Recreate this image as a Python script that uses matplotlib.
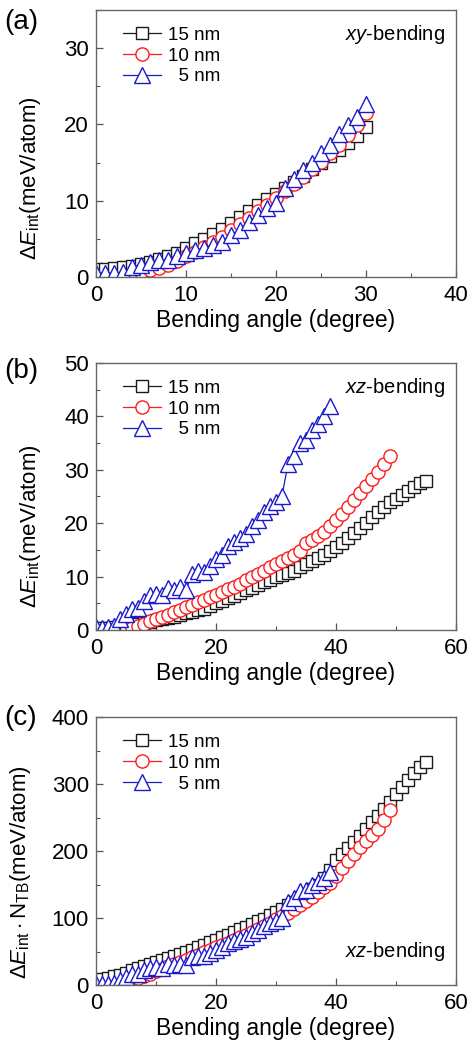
import matplotlib
matplotlib.use("Agg")
import matplotlib.pyplot as plt
from matplotlib.ticker import MultipleLocator

plt.rcParams['font.family'] = ['Liberation Sans', 'DejaVu Sans']
plt.rcParams['mathtext.fontset'] = 'custom'
plt.rcParams['mathtext.rm'] = 'Liberation Sans'
plt.rcParams['mathtext.it'] = 'Liberation Sans:italic'
plt.rcParams['mathtext.bf'] = 'Liberation Sans:bold'

labels = ['15 nm', '10 nm', '  5 nm']

# (a) xy-bending, interaction energy per atom
a_x15 = list(range(0, 31))
a_y15 = [1.0, 1.1, 1.2, 1.3, 1.5, 1.7, 2.0, 2.3, 2.7, 3.2, 3.8, 4.4, 5.0, 5.6, 6.3, 7.1,
         7.9, 8.7, 9.5, 10.2, 10.9, 11.7, 12.5, 13.3, 14.1, 14.9, 15.8, 16.7, 17.6, 18.5, 19.6]
a_x10 = list(range(5, 31))
a_y10 = [0.6, 0.9, 1.2, 1.6, 2.1, 2.7, 3.3, 3.9, 4.6, 5.3, 6.1, 6.9, 7.7, 8.6, 9.5,
         10.4, 11.3, 12.2, 13.1, 14.1, 15.1, 16.2, 17.3, 18.6, 19.9, 21.5]
a_x5 = list(range(0, 31))
a_y5 = [0.5, 0.5, 0.5, 0.6, 1.3, 1.6, 2.0, 2.2, 2.2, 2.7, 3.1, 3.5, 3.8, 4.2, 4.6, 5.5,
        6.1, 7.2, 8.1, 9.0, 9.7, 11.6, 12.9, 14.0, 14.9, 16.2, 17.3, 18.8, 19.9, 21.0, 22.7]

# (b) xz-bending, interaction energy per atom
b_x15 = list(range(0, 56))
b_y15 = [0.3, 0.3, 0.4, 0.5, 0.6, 0.8, 0.9, 1.1, 1.3, 1.5, 1.8, 2.0, 2.2, 2.5, 2.8, 3.1,
         3.4, 3.7, 4.0, 4.4, 5.0, 5.4, 5.9, 6.4, 6.9, 7.4, 7.9, 8.4, 8.9, 9.4, 9.9, 10.3,
         10.7, 11.1, 11.7, 12.3, 12.9, 13.5, 14.1, 14.7, 15.5, 16.3, 17.2, 18.1, 19.1, 20.1,
         21.1, 22.1, 23.1, 23.9, 24.6, 25.3, 26.0, 26.8, 27.5, 27.9]
b_x10 = list(range(6, 50))
b_y10 = [0.3, 0.7, 1.2, 1.6, 2.0, 2.4, 2.8, 3.3, 3.8, 4.3, 4.7, 5.2, 5.7, 6.1, 6.6, 7.1,
         7.6, 8.1, 8.7, 9.3, 9.9, 10.5, 11.1, 11.7, 12.3, 12.9, 13.5, 14.1, 14.8, 16.2,
         16.9, 17.6, 18.4, 19.5, 20.6, 21.8, 23.1, 24.4, 25.7, 27.0, 28.3, 29.6, 31.0, 32.6]
b_x5 = list(range(0, 40))
b_y5 = [0.5, 0.4, 0.5, 0.8, 2.0, 3.0, 4.0, 4.2, 5.5, 6.5, 6.8, 6.5, 7.8, 7.5, 8.0, 7.5,
        10.5, 11.0, 10.8, 12.0, 13.2, 14.0, 15.8, 16.5, 17.2, 18.0, 19.5, 20.5, 22.0, 23.3,
        24.0, 25.0, 31.0, 32.5, 35.0, 35.5, 37.5, 38.5, 40.0, 42.0]

# (c) xz-bending, energy scaled by the number of twin boundaries
c_x15 = list(range(0, 56))
c_y15 = [7, 9, 11, 13, 15, 18, 22, 26, 29, 32, 35, 38, 41, 44, 47, 50, 53, 57, 60, 64,
         67, 71, 75, 79, 83, 87, 91, 95, 99, 104, 109, 114, 119, 124, 130, 136, 143, 150,
         160, 172, 186, 196, 205, 214, 223, 233, 243, 253, 263, 273, 285, 296, 306, 316,
         326, 333]
c_x10 = list(range(5, 50))
c_y10 = [2, 6, 10, 14, 17, 21, 24, 28, 31, 35, 38, 42, 45, 49, 52, 56, 59, 63, 67, 71,
         75, 79, 83, 88, 93, 98, 103, 108, 114, 119, 125, 132, 139, 146, 153, 163, 174,
         185, 196, 206, 215, 224, 233, 246, 261]
c_x5 = list(range(0, 40))
c_y5 = [2, 1.6, 2, 3.2, 8, 12, 16, 17, 22, 26, 27, 26, 31, 30, 32, 30, 42, 44, 43, 48,
        53, 56, 63, 66, 69, 72, 78, 82, 88, 93, 96, 100, 124, 130, 140, 142, 150, 154,
        160, 168]

colors = ['#1a1a1a', '#ff1a1a', '#1a1acc']
markers = ['s', 'o', '^']
msizes = [9, 9.5, 11]

ylab1 = r'$\Delta\mathit{E}_{\rm int}$(meV/atom)'
ylab2 = r'$\Delta\mathit{E}_{\rm int}\cdot{\rm N}_{\rm TB}$(meV/atom)'

panels = [
    dict(rect=[0.205, 0.7347, 0.769, 0.2557], tag='(a)', tag_y=0.979,
         data=[(a_x15, a_y15), (a_x10, a_y10), (a_x5, a_y5)],
         xlim=40, xmaj=10, ylim=35, ymaj=10, ylab=ylab1, ylab_pos=(-0.147, 0.37),
         note=r'$\mathit{xy}$-bending', note_y=0.91),
    dict(rect=[0.205, 0.3966, 0.769, 0.2557], tag='(b)', tag_y=0.645,
         data=[(b_x15, b_y15), (b_x10, b_y10), (b_x5, b_y5)],
         xlim=60, xmaj=20, ylim=50, ymaj=10, ylab=ylab1, ylab_pos=(-0.147, 0.39),
         note=r'$\mathit{xz}$-bending', note_y=0.91),
    dict(rect=[0.205, 0.0565, 0.769, 0.2567], tag='(c)', tag_y=0.312,
         data=[(c_x15, c_y15), (c_x10, c_y10), (c_x5, c_y5)],
         xlim=60, xmaj=20, ylim=400, ymaj=100, ylab=ylab2, ylab_pos=(-0.175, 0.42),
         note=r'$\mathit{xz}$-bending', note_y=0.125),
]

fig = plt.figure(figsize=(4.68, 10.44), dpi=100)

for p in panels:
    ax = fig.add_axes(p['rect'])
    for (xs, ys), lab, c, m, ms in zip(p['data'], labels, colors, markers, msizes):
        ax.plot(xs, ys, color=c, lw=0.9, marker=m, ms=ms, mfc='white', mec=c,
                mew=1.0, label=lab)

    ax.set_xlim(0, p['xlim'])
    ax.set_ylim(0, p['ylim'])
    ax.xaxis.set_major_locator(MultipleLocator(p['xmaj']))
    ax.xaxis.set_minor_locator(MultipleLocator(p['xmaj'] / 2))
    ax.yaxis.set_major_locator(MultipleLocator(p['ymaj']))
    ax.yaxis.set_minor_locator(MultipleLocator(p['ymaj'] / 2))
    ax.tick_params(which='both', direction='in', top=False, right=False,
                   labelsize=16, color='#555555')
    ax.tick_params(which='major', length=5, width=0.9)
    ax.tick_params(which='minor', length=3, width=0.8)
    ax.tick_params(axis='y', pad=5)
    ax.tick_params(axis='x', pad=6)
    for s in ax.spines.values():
        s.set_color('#666666')
        s.set_linewidth(1.0)

    ax.set_xlabel('Bending angle (degree)', fontsize=16.5, labelpad=2)
    ax.set_ylabel(p['ylab'], fontsize=16)
    ax.yaxis.set_label_coords(*p['ylab_pos'])

    ax.legend(loc='upper left', bbox_to_anchor=(0.045, 0.98), frameon=False,
              fontsize=13.5, handlelength=2.0, handletextpad=0.4, labelspacing=0.2,
              borderaxespad=0.2)
    ax.text(0.97, p['note_y'], p['note'], transform=ax.transAxes, ha='right',
            va='center', fontsize=14.5)
    fig.text(0.01, p['tag_y'], p['tag'], fontsize=20, ha='left', va='center')

fig.savefig('out.png', dpi=100)
